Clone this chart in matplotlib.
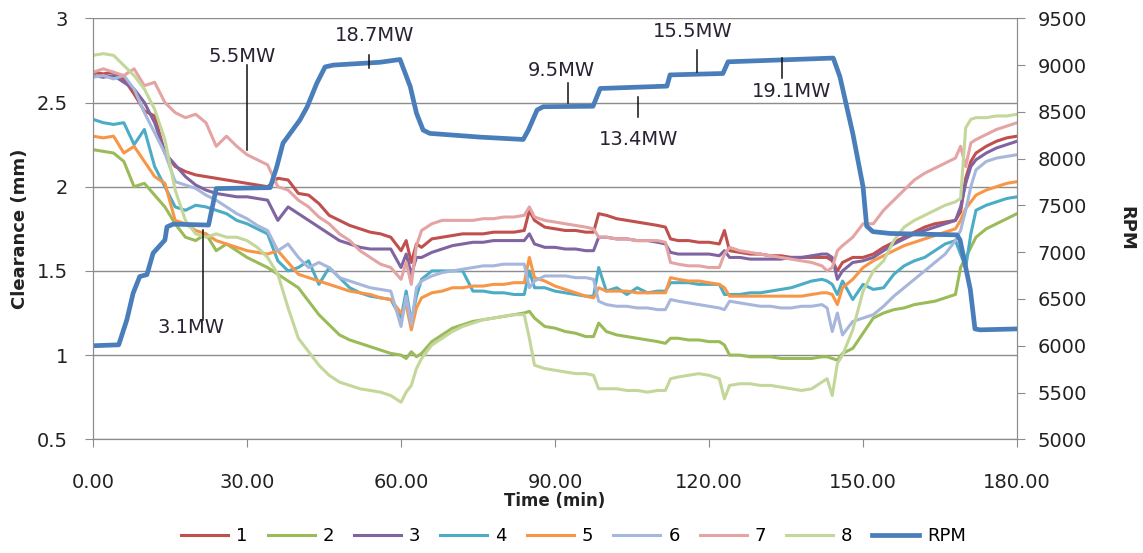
import numpy as np
import matplotlib
matplotlib.use('Agg')
import matplotlib.pyplot as plt

# time base shared by the eight clearance probes (min)
time_min = [0, 2, 4, 6, 8, 10, 12, 14, 16, 18, 20, 22, 24, 26, 28, 30, 32, 34, 36, 38,
            40, 42, 44, 46, 48, 50, 52, 54, 56, 58,
            60, 61, 62, 63, 64,
            66, 68, 70, 72, 74, 76, 78, 80, 82, 84,
            85, 86, 88, 90, 92, 94, 96,
            97.5, 98.5, 100, 102, 104, 106, 108, 110,
            111.5, 112.5, 114, 116, 118, 120, 122,
            123, 124, 126, 128, 130, 132, 134, 136, 138, 140, 142,
            143, 144, 145, 146, 148, 150, 152, 154, 156, 158, 160, 162, 164, 166, 168,
            169, 170, 171, 172, 174, 176, 178, 180]

# clearance (mm) per probe
probe1 = [2.68, 2.67, 2.68, 2.64, 2.55, 2.45, 2.42, 2.20, 2.12, 2.09, 2.07, 2.06, 2.05, 2.04, 2.03, 2.02, 2.01, 2.00, 2.05, 2.04,
          1.96, 1.95, 1.90, 1.83, 1.80, 1.77, 1.75, 1.73, 1.72, 1.70,
          1.62, 1.68, 1.55, 1.66, 1.64,
          1.69, 1.70, 1.71, 1.72, 1.72, 1.72, 1.73, 1.73, 1.73, 1.74,
          1.86, 1.80, 1.76, 1.75, 1.74, 1.74, 1.73,
          1.73, 1.84, 1.83, 1.81, 1.80, 1.79, 1.78, 1.77,
          1.76, 1.69, 1.68, 1.68, 1.67, 1.67, 1.66,
          1.74, 1.62, 1.61, 1.60, 1.60, 1.59, 1.59, 1.58, 1.58, 1.58, 1.58,
          1.58, 1.56, 1.50, 1.55, 1.58, 1.58, 1.60, 1.64, 1.67, 1.70, 1.73, 1.76, 1.78, 1.79, 1.80,
          1.85, 2.05, 2.15, 2.20, 2.24, 2.27, 2.29, 2.30]
probe2 = [2.22, 2.21, 2.20, 2.15, 2.00, 2.02, 1.95, 1.88, 1.78, 1.70, 1.68, 1.72, 1.62, 1.66, 1.62, 1.58, 1.55, 1.52, 1.48, 1.44,
          1.40, 1.32, 1.24, 1.18, 1.12, 1.09, 1.07, 1.05, 1.03, 1.01,
          1.00, 0.98, 1.02, 0.99, 1.01,
          1.08, 1.12, 1.16, 1.18, 1.20, 1.21, 1.22, 1.23, 1.24, 1.25,
          1.26, 1.22, 1.17, 1.16, 1.14, 1.13, 1.11,
          1.11, 1.19, 1.14, 1.12, 1.11, 1.10, 1.09, 1.08,
          1.07, 1.10, 1.10, 1.09, 1.09, 1.08, 1.08,
          1.06, 1.00, 1.00, 0.99, 0.99, 0.99, 0.98, 0.98, 0.98, 0.98, 0.99,
          0.99, 0.98, 0.97, 1.01, 1.04, 1.13, 1.22, 1.25, 1.27, 1.28, 1.30, 1.31, 1.32, 1.34, 1.36,
          1.52, 1.58, 1.64, 1.70, 1.75, 1.78, 1.81, 1.84]
probe3 = [2.66, 2.65, 2.66, 2.62, 2.58, 2.50, 2.38, 2.20, 2.13, 2.06, 2.01, 1.98, 1.96, 1.95, 1.94, 1.94, 1.93, 1.92, 1.80, 1.88,
          1.84, 1.80, 1.76, 1.72, 1.68, 1.66, 1.64, 1.63, 1.63, 1.63,
          1.52, 1.60, 1.48, 1.58, 1.58,
          1.61, 1.63, 1.65, 1.66, 1.67, 1.67, 1.68, 1.68, 1.68, 1.68,
          1.72, 1.66, 1.64, 1.64, 1.63, 1.63, 1.62,
          1.62, 1.70, 1.70, 1.69, 1.69, 1.68, 1.68, 1.67,
          1.66, 1.61, 1.60, 1.60, 1.60, 1.60, 1.59,
          1.62, 1.58, 1.58, 1.57, 1.57, 1.57, 1.57, 1.58, 1.58, 1.59, 1.60,
          1.60, 1.58, 1.45, 1.50, 1.55, 1.56, 1.58, 1.62, 1.66, 1.69, 1.72, 1.74, 1.76, 1.78, 1.80,
          1.88, 2.02, 2.12, 2.16, 2.20, 2.23, 2.25, 2.27]
probe4 = [2.40, 2.38, 2.37, 2.38, 2.25, 2.34, 2.12, 2.00, 1.88, 1.86, 1.89, 1.88, 1.86, 1.84, 1.80, 1.78, 1.75, 1.72, 1.56, 1.50,
          1.52, 1.56, 1.42, 1.52, 1.46, 1.40, 1.37, 1.35, 1.34, 1.33,
          1.22, 1.38, 1.20, 1.35, 1.45,
          1.50, 1.50, 1.50, 1.50, 1.38, 1.38, 1.37, 1.37, 1.36, 1.36,
          1.50, 1.40, 1.40, 1.38, 1.37, 1.36, 1.35,
          1.35, 1.52, 1.38, 1.40, 1.36, 1.40, 1.37, 1.38,
          1.38, 1.43, 1.43, 1.43, 1.42, 1.42, 1.42,
          1.36, 1.36, 1.36, 1.37, 1.37, 1.38, 1.39, 1.40, 1.42, 1.44, 1.45,
          1.44, 1.42, 1.36, 1.44, 1.33, 1.42, 1.39, 1.40, 1.48, 1.53, 1.56, 1.58, 1.62, 1.66, 1.68,
          1.60, 1.52, 1.72, 1.86, 1.89, 1.91, 1.93, 1.94]
probe5 = [2.30, 2.29, 2.30, 2.20, 2.24, 2.15, 2.06, 2.02, 1.80, 1.78, 1.74, 1.72, 1.68, 1.66, 1.64, 1.62, 1.61, 1.60, 1.62, 1.55,
          1.48, 1.46, 1.44, 1.42, 1.40, 1.38, 1.37, 1.36, 1.34, 1.33,
          1.25, 1.30, 1.15, 1.28, 1.34,
          1.37, 1.38, 1.40, 1.40, 1.41, 1.41, 1.42, 1.42, 1.43, 1.43,
          1.58, 1.46, 1.44, 1.41, 1.39, 1.37, 1.35,
          1.34, 1.40, 1.38, 1.38, 1.38, 1.37, 1.37, 1.37,
          1.37, 1.46, 1.45, 1.44, 1.44, 1.43, 1.42,
          1.40, 1.35, 1.35, 1.35, 1.35, 1.35, 1.35, 1.35, 1.35, 1.36, 1.37,
          1.37, 1.36, 1.30, 1.40, 1.45, 1.52, 1.56, 1.59, 1.62, 1.65, 1.67, 1.69, 1.71, 1.73, 1.75,
          1.80, 1.87, 1.91, 1.95, 1.98, 2.00, 2.02, 2.03]
probe6 = [2.65, 2.66, 2.64, 2.66, 2.58, 2.44, 2.32, 2.20, 2.03, 2.01, 1.99, 1.95, 1.92, 1.88, 1.84, 1.81, 1.77, 1.74, 1.62, 1.66,
          1.58, 1.52, 1.55, 1.52, 1.46, 1.44, 1.42, 1.40, 1.39, 1.38,
          1.17, 1.35, 1.18, 1.40, 1.44,
          1.47, 1.49, 1.50, 1.51, 1.52, 1.53, 1.53, 1.54, 1.54, 1.54,
          1.40, 1.44, 1.47, 1.47, 1.47, 1.46, 1.46,
          1.45, 1.32, 1.30, 1.29, 1.29, 1.28, 1.28, 1.27,
          1.27, 1.33, 1.32, 1.31, 1.30, 1.29, 1.28,
          1.27, 1.32, 1.31, 1.30, 1.29, 1.29, 1.28, 1.28, 1.29, 1.29, 1.30,
          1.28, 1.14, 1.25, 1.12, 1.20, 1.22, 1.24, 1.29, 1.35, 1.40, 1.45, 1.50, 1.55, 1.60, 1.68,
          1.74, 1.86, 2.00, 2.10, 2.15, 2.17, 2.18, 2.19]
probe7 = [2.68, 2.70, 2.68, 2.66, 2.70, 2.60, 2.62, 2.50, 2.44, 2.41, 2.43, 2.38, 2.24, 2.30, 2.24, 2.19, 2.16, 2.13, 2.00, 1.98,
          1.92, 1.88, 1.82, 1.78, 1.72, 1.68, 1.62, 1.58, 1.54, 1.52,
          1.45, 1.55, 1.42, 1.65, 1.74,
          1.78, 1.80, 1.80, 1.80, 1.80, 1.81, 1.81, 1.82, 1.82, 1.83,
          1.88, 1.82, 1.80, 1.79, 1.78, 1.77, 1.76,
          1.75, 1.70, 1.70, 1.69, 1.69, 1.68, 1.68, 1.68,
          1.67, 1.55, 1.54, 1.53, 1.53, 1.52, 1.52,
          1.60, 1.64, 1.62, 1.61, 1.60, 1.59, 1.58, 1.57, 1.56, 1.55, 1.53,
          1.50, 1.52, 1.62, 1.65, 1.70, 1.78, 1.78, 1.86, 1.92, 1.98, 2.04, 2.08, 2.11, 2.14, 2.17,
          2.24, 2.12, 2.26, 2.28, 2.31, 2.34, 2.36, 2.38]
probe8 = [2.78, 2.79, 2.78, 2.72, 2.66, 2.58, 2.46, 2.28, 1.98, 1.80, 1.72, 1.70, 1.72, 1.70, 1.70, 1.68, 1.64, 1.58, 1.48, 1.28,
          1.10, 1.02, 0.94, 0.88, 0.84, 0.82, 0.80, 0.79, 0.78, 0.76,
          0.72, 0.78, 0.82, 0.92, 0.98,
          1.06, 1.10, 1.14, 1.17, 1.19, 1.21, 1.22, 1.23, 1.24, 1.24,
          1.10, 0.94, 0.92, 0.91, 0.90, 0.89, 0.89,
          0.88, 0.80, 0.80, 0.80, 0.79, 0.79, 0.78, 0.79,
          0.79, 0.86, 0.87, 0.88, 0.89, 0.88, 0.86,
          0.74, 0.82, 0.83, 0.83, 0.82, 0.82, 0.81, 0.80, 0.79, 0.80, 0.84,
          0.86, 0.76, 0.95, 1.00, 1.15, 1.38, 1.50, 1.56, 1.68, 1.76, 1.80, 1.83, 1.86, 1.89, 1.91,
          1.93, 2.35, 2.40, 2.41, 2.41, 2.42, 2.42, 2.43]

# shaft speed
rpm_time = [0, 5, 6.6, 7.8, 9.1, 10.5, 11.7, 14, 14.4, 15.6, 22.5, 24, 34.5, 35.8, 37, 40.3, 41.7, 43.6, 45.2, 46.8,
            55.9, 59.8, 61.8, 63.0, 64.3, 65.6, 75.4, 83.8, 84.8, 86.5, 87.7, 97.4, 98.8, 111.8, 112.4, 122.7,
            123.7, 144.2, 145.5, 148, 150, 150.7, 151.9, 155.3, 168.3, 168.9, 170.9, 171.8, 172.8, 180]
rpm = [6000, 6010, 6280, 6560, 6740, 6760, 6990, 7130, 7270, 7300, 7290, 7680, 7690, 7914, 8165, 8413, 8552, 8807, 8980, 9000,
       9030, 9060, 8769, 8487, 8305, 8270, 8230, 8205, 8305, 8520, 8555, 8560, 8750, 8775, 8895, 8910,
       9035, 9075, 8875, 8270, 7700, 7280, 7220, 7200, 7185, 7130, 6600, 6180, 6170, 6180]

probe_names = ['1', '2', '3', '4', '5', '6', '7', '8']
probe_colors = ['#C0504D', '#9BBB59', '#8064A2', '#4BACC6', '#F79646', '#A7B7DC', '#E4A4A3', '#C4D79B']

# power labels: text, time of leader, time of text, text rpm, leader top, leader bottom
power_notes = [
    ('3.1MW', 21.4, 19.1, 6195, 7237, 6275),
    ('5.5MW', 30.0, 29.0, 9097, 9001, 8092),
    ('18.7MW', 53.8, 54.9, 9311, 9108, 8969),
    ('9.5MW', 92.5, 91.2, 8947, 8808, 8595),
    ('13.4MW', 106.2, 106.2, 8205, 8659, 8445),
    ('15.5MW', 117.7, 116.9, 9364, 9161, 8926),
    ('19.1MW', 134.2, 136.0, 8718, 9076, 8862),
]

probes = [probe1, probe2, probe3, probe4, probe5, probe6, probe7, probe8]

plt.rcParams['font.family'] = 'DejaVu Sans'
grey = '#8c8c8c'
ink = '#222222'

fig = plt.figure(figsize=(11.43, 5.53), dpi=100)
ax = fig.add_axes([0.0814, 0.2056, 0.8084, 0.7613])
ax2 = ax.twinx()

handles = []
for name, color, vals in zip(probe_names, probe_colors, probes):
    h, = ax.plot(time_min, vals, color=color, lw=2.2, label=name)
    handles.append(h)

h, = ax2.plot(rpm_time, rpm, color='#4A7EBB', lw=3.4, solid_joinstyle='round', label='RPM')
handles.append(h)

for text, t_line, t_text, y_text, y_top, y_bot in power_notes:
    ax2.plot([t_line, t_line], [y_top, y_bot], color='#111111', lw=1.1)
    ax2.text(t_text, y_text, text, ha='center', va='center', fontsize=14, color='#2a2233')

ax.set_xlim(0, 180)
ax.set_ylim(0.5, 3)
ax2.set_ylim(5000, 9500)
ax.set_xticks(np.arange(0, 181, 30))
ax.set_xticklabels(['%.2f' % v for v in np.arange(0, 181, 30)])
ax.set_yticks(np.arange(0.5, 3.01, 0.5))
ax.set_yticklabels(['%g' % v for v in np.arange(0.5, 3.01, 0.5)])
ax2.set_yticks(np.arange(5000, 9501, 500))

ax.grid(axis='y', color=grey, lw=1)
ax.set_axisbelow(True)
for a in (ax, ax2):
    a.spines['top'].set_visible(False)
    for s in ('left', 'right', 'bottom'):
        a.spines[s].set_color(grey)
ax.tick_params(axis='x', direction='out', length=6, color=grey, labelsize=14, labelcolor=ink, pad=18)
ax.tick_params(axis='y', direction='out', length=6, color=grey, labelsize=14, labelcolor=ink, pad=12)
ax2.tick_params(axis='y', direction='out', length=6, color=grey, labelsize=14, labelcolor=ink, pad=9)

ax.set_xlabel('Time (min)', fontsize=12, fontweight='bold', color=ink)
ax.xaxis.set_label_coords(0.5, -0.147)
ax.xaxis.label.set_va('center')
ax.set_ylabel('Clearance (mm)', fontsize=13, fontweight='bold', color=ink)
ax.yaxis.set_label_coords(-0.079, 0.5)
ax.yaxis.label.set_va('center')
ax2.set_ylabel('RPM', fontsize=13, fontweight='bold', color=ink, rotation=270)
ax2.yaxis.set_label_coords(1.118, 0.5)
ax2.yaxis.label.set_va('center')

fig.legend(handles=handles, loc='center', bbox_to_anchor=(0.502, 0.031), ncol=9, frameon=False,
           fontsize=13, handlelength=2.6, handletextpad=0.45, columnspacing=1.1)

fig.savefig('out.png', dpi=100)
